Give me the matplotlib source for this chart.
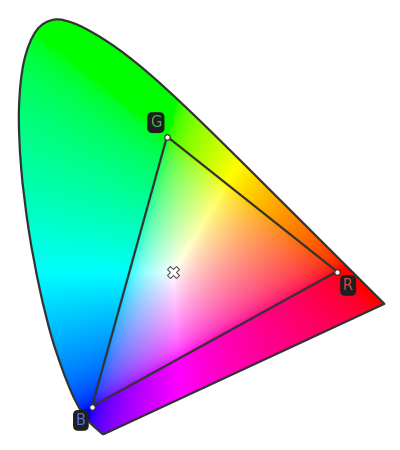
import numpy as np
import matplotlib.pyplot as plt
from matplotlib.patches import PathPatch
from matplotlib.path import Path

# CIE 1931 2 deg spectral locus, 380-700 nm in 5 nm steps
locus_x = [0.1741, 0.1740, 0.1738, 0.1736, 0.1733, 0.1730, 0.1726, 0.1721, 0.1714, 0.1703,
           0.1689, 0.1669, 0.1644, 0.1611, 0.1566, 0.1510, 0.1440, 0.1355, 0.1241, 0.1096,
           0.0913, 0.0687, 0.0454, 0.0235, 0.0082, 0.0039, 0.0139, 0.0389, 0.0743, 0.1142,
           0.1547, 0.1929, 0.2296, 0.2658, 0.3016, 0.3373, 0.3731, 0.4087, 0.4441, 0.4788,
           0.5125, 0.5448, 0.5752, 0.6029, 0.6270, 0.6482, 0.6658, 0.6801, 0.6915, 0.7006,
           0.7079, 0.7140, 0.7190, 0.7230, 0.7260, 0.7283, 0.7300, 0.7311, 0.7320, 0.7327,
           0.7334, 0.7340, 0.7344, 0.7346, 0.7347]
locus_y = [0.0050, 0.0050, 0.0049, 0.0049, 0.0048, 0.0048, 0.0048, 0.0048, 0.0051, 0.0058,
           0.0069, 0.0086, 0.0109, 0.0138, 0.0177, 0.0227, 0.0297, 0.0399, 0.0578, 0.0868,
           0.1327, 0.2007, 0.2950, 0.4127, 0.5384, 0.6548, 0.7502, 0.8120, 0.8338, 0.8262,
           0.8059, 0.7816, 0.7543, 0.7243, 0.6923, 0.6589, 0.6245, 0.5896, 0.5547, 0.5202,
           0.4866, 0.4544, 0.4242, 0.3965, 0.3725, 0.3514, 0.3340, 0.3197, 0.3083, 0.2993,
           0.2920, 0.2859, 0.2809, 0.2770, 0.2740, 0.2717, 0.2700, 0.2689, 0.2680, 0.2673,
           0.2666, 0.2660, 0.2656, 0.2654, 0.2653]

# sRGB primaries and D65 white point
prim_names = ['R', 'G', 'B']
prim_x = [0.64, 0.30, 0.15]
prim_y = [0.33, 0.60, 0.06]
white_xy = (0.3127, 0.3290)

label_colors = {'R': '#d24a44', 'G': '#45b34f', 'B': '#5a6cf0'}
label_offsets = {'R': (8, -10), 'G': (-8, 10), 'B': (-8, -10)}


def xy_to_rgb(x, y):
    y = np.maximum(y, 1e-6)
    X = x / y
    Z = (1 - x - y) / y
    M = np.array([[3.2406, -1.5372, -0.4986],
                  [-0.9689, 1.8758, 0.0415],
                  [0.0557, -0.2040, 1.0570]])
    xyz = np.stack([X, np.ones_like(X), Z], axis=-1)
    rgb = xyz @ M.T
    rgb = np.clip(rgb, 0, None)
    rgb = rgb / np.maximum(rgb.max(axis=-1, keepdims=True), 1e-9)
    rgb = np.where(rgb <= 0.0031308, 12.92 * rgb, 1.055 * rgb ** (1 / 2.4) - 0.055)
    return np.clip(rgb, 0, 1)


def smooth_path(px, py):
    # catmull-rom through the locus points, straight purple line back
    pts = np.c_[px, py]
    n = len(pts)
    verts = [pts[0]]
    codes = [Path.MOVETO]
    for i in range(n - 1):
        p0 = pts[max(i - 1, 0)]
        p1 = pts[i]
        p2 = pts[i + 1]
        p3 = pts[min(i + 2, n - 1)]
        verts += [p1 + (p2 - p0) / 6, p2 - (p3 - p1) / 6, p2]
        codes += [Path.CURVE4] * 3
    verts.append(pts[0])
    codes.append(Path.CLOSEPOLY)
    return Path(verts, codes)


fig = plt.figure(figsize=(4, 4.5), dpi=100)
ax = fig.add_axes([0, 0, 1, 1])
xlim = (-0.034, 0.766)
ylim = (-0.027, 0.873)

# colour fill, clipped to the locus
gx = np.linspace(xlim[0], xlim[1], 500)
gy = np.linspace(ylim[0], ylim[1], 560)
XX, YY = np.meshgrid(gx, gy)
img = xy_to_rgb(XX, YY)
im = ax.imshow(img, origin='lower', extent=(xlim[0], xlim[1], ylim[0], ylim[1]),
               interpolation='bilinear', zorder=1)
outline = PathPatch(smooth_path(locus_x, locus_y), facecolor='none',
                    edgecolor='#333333', linewidth=1.6, joinstyle='round', zorder=3)
ax.add_patch(outline)
im.set_clip_path(outline)

# gamut triangle
tx = prim_x + [prim_x[0]]
ty = prim_y + [prim_y[0]]
ax.plot(tx, ty, color='#333333', linewidth=1.6, zorder=4)
ax.scatter(prim_x, prim_y, s=16, facecolor='white', edgecolor='#333333',
           linewidth=0.9, zorder=5)

for name, px, py in zip(prim_names, prim_x, prim_y):
    ax.annotate(name, (px, py), xytext=label_offsets[name], textcoords='offset points',
                ha='center', va='center', fontsize=10.5, color=label_colors[name],
                bbox=dict(boxstyle='round,pad=0.2,rounding_size=0.35',
                          facecolor='#1f1f1f', edgecolor='none'),
                zorder=6)

# white point
ax.plot(*white_xy, marker='X', markersize=9, markerfacecolor='white',
        markeredgecolor='#555555', markeredgewidth=0.8, zorder=5)

ax.set_xlim(*xlim)
ax.set_ylim(*ylim)
ax.set_aspect('auto')
ax.axis('off')
fig.savefig('out.png', dpi=100, facecolor='white')
